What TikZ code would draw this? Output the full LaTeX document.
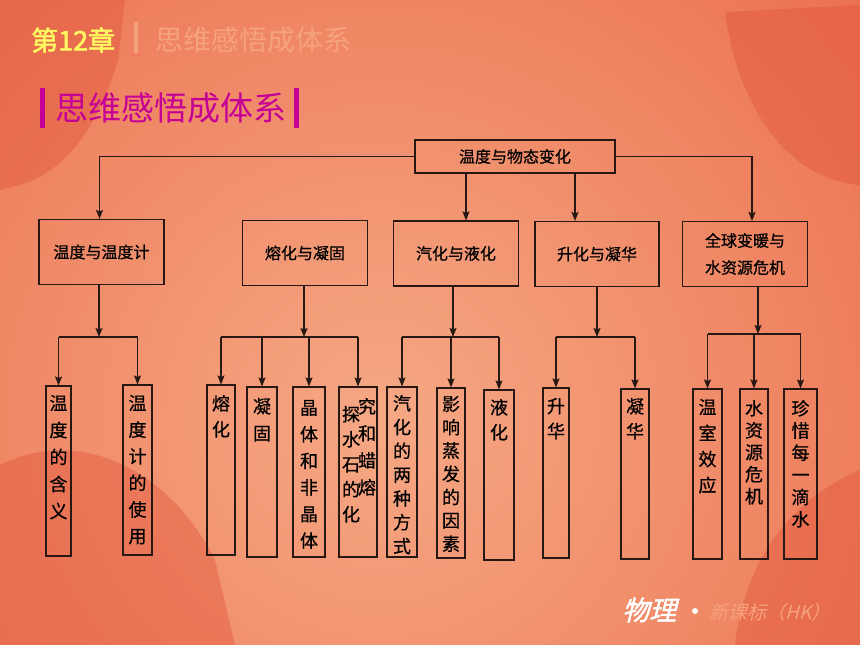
\documentclass[tikz,border=0pt]{standalone}
\usepackage{fontspec}
\usetikzlibrary{arrows.meta}
\newfontfamily\zh{Noto Sans CJK SC}
\newfontfamily\zhm{Noto Sans CJK SC}[FakeBold=0.6]
\newfontfamily\zhbf{Noto Sans CJK SC}[FakeBold=2]
\newfontfamily\zhsl{Noto Sans CJK SC}[FakeSlant=0.25,FakeBold=1.5]
\newfontfamily\zhit{Noto Sans CJK SC}[FakeSlant=0.25]
\definecolor{bgdark}{RGB}{233,102,70}
\definecolor{bglight}{RGB}{246,168,132}
\definecolor{deco}{RGB}{224,80,56}
\definecolor{lineclr}{RGB}{40,24,20}
\definecolor{titleyel}{RGB}{255,248,96}
\definecolor{pale}{RGB}{246,162,126}
\definecolor{headmag}{RGB}{196,0,150}
% vertical column of characters: [line skip]{top gap}{text}
\newcommand{\vcol}[3][26pt]{\parbox[c][164pt][t]{18pt}{\centering\fontsize{18pt}{#1}\selectfont\vspace*{#2}#3}}

\begin{document}
\begin{tikzpicture}[x=1pt,y=-1pt,
	branch/.style={draw=lineclr,line width=1.1pt,minimum width=125pt,minimum height=65pt,inner sep=2pt,align=center,font=\zhm\fontsize{16pt}{22pt}\selectfont},
	leaf/.style={draw=lineclr,line width=1.1pt,minimum height=170pt,inner sep=3pt,font=\zhm},
	arr/.style={-{Stealth[length=9pt,width=7pt,inset=1.5pt]}},
	link/.style={draw=lineclr,line width=1.1pt}]
	\useasboundingbox (0,0) rectangle (860,645);
	% background
	\fill[bgdark] (0,0) rectangle (860,645);
	\begin{scope}
		\clip (0,0) rectangle (860,645);
		\shade[inner color=bglight, outer color=bgdark] (380,420) circle (780);
		\begin{scope}[fill=deco, fill opacity=0.4]
			\fill (0,0) -- (125,0) -- (118,60) .. controls (100,120) and (70,170) .. (20,185) -- (0,190) -- cycle;
			\fill (725,12) -- (860,5) -- (860,185) .. controls (790,180) and (738,110) .. (725,12) -- cycle;
			\fill (0,465) .. controls (80,425) and (170,470) .. (215,560) -- (235,645) -- (0,645) -- cycle;
			\fill (860,470) .. controls (790,500) and (745,560) .. (735,645) -- (860,645) -- cycle;
		\end{scope}
	\end{scope}
	% headings
	\node[anchor=west,inner sep=0,text=titleyel,font=\zhbf\fontsize{27pt}{27pt}\selectfont] (chap) at (31,40) {第12章};
	\fill[pale] (134,22) rectangle (137.5,53);
	\node[anchor=west,inner sep=0,text=pale,font=\zh\fontsize{28pt}{28pt}\selectfont] (chaptitle) at (155,40) {思维感悟成体系};
	\fill[headmag] (40,88) rectangle (45,128);
	\fill[headmag] (294,88) rectangle (299,128);
	\node[anchor=west,inner sep=0,text=headmag,font=\zh\fontsize{33pt}{33pt}\selectfont] (head) at (55,108) {思维感悟成体系};
	% top and branches
	\node[branch,minimum width=200pt,minimum height=33pt] (top) at (515,156.5) {温度与物态变化};
	\node[branch] (b1) at (101.5,252) {温度与温度计};
	\node[branch] (b2) at (305,253) {熔化与凝固};
	\node[branch] (b3) at (456,253.5) {汽化与液化};
	\node[branch,minimum width=124pt] (b4) at (597,254) {升化与凝华};
	\node[branch,font=\zhm\fontsize{16pt}{27pt}\selectfont] (b5) at (745,254) {全球变暖与\\水资源危机};
	\draw[link,arr] (top.west) -| ([xshift=-2pt]b1.north);
	\draw[link,arr] ([xshift=10pt]b3.north |- top.south) -- ([xshift=10pt]b3.north);
	\draw[link,arr] ([xshift=-22pt]b4.north |- top.south) -- ([xshift=-22pt]b4.north);
	\draw[link,arr] (top.east) -| ([xshift=7pt]b5.north);
	% leaves
	\node[leaf,minimum width=25pt] (l11) at (58.5,471) {\vcol[27pt]{6pt}{温\\度\\的\\含\\义}};
	\node[leaf,minimum width=29pt] (l12) at (137.5,470) {\vcol[26.6pt]{7pt}{温\\度\\计\\的\\使\\用}};
	\node[leaf,minimum width=28pt] (l21) at (221,470) {\vcol{7pt}{熔\\化}};
	\node[leaf,minimum width=30pt] (l22) at (262,472) {\vcol[27pt]{8pt}{凝\\固}};
	\node[leaf,minimum width=32pt] (l23) at (309,472) {\vcol[26.6pt]{10pt}{晶\\体\\和\\非\\晶\\体}};
	\node[leaf,minimum width=38pt] (l24) at (358,472) {\parbox[c][164pt][t]{16pt}{\centering\fontsize{18pt}{25pt}\selectfont\vspace*{16pt}探\\水\\石\\的\\化}\parbox[c][164pt][t]{16pt}{\centering\fontsize{18pt}{27pt}\selectfont\vspace*{8pt}究\\和\\蜡\\熔}};
	\node[leaf,minimum width=30pt] (l31) at (402,472) {\vcol[23.8pt]{5pt}{汽\\化\\的\\两\\种\\方\\式}};
	\node[leaf,minimum width=28pt] (l32) at (451,473) {\vcol[23.3pt]{5pt}{影\\响\\蒸\\发\\的\\因\\素}};
	\node[leaf,minimum width=30pt] (l33) at (499,475) {\vcol[25pt]{6pt}{液\\化}};
	\node[leaf,minimum width=26pt] (l41) at (556,473) {\vcol[25pt]{7pt}{升\\华}};
	\node[leaf,minimum width=28pt] (l42) at (635,474) {\vcol[25pt]{6pt}{凝\\华}};
	\node[leaf,minimum width=29pt] (l51) at (707.5,474) {\vcol{7pt}{温\\室\\效\\应}};
	\node[leaf,minimum width=28pt] (l52) at (754,474) {\vcol[22pt]{8pt}{水\\资\\源\\危\\机}};
	\node[leaf,minimum width=33pt] (l53) at (800.5,474) {\vcol[22.2pt]{8pt}{珍\\惜\\每\\一\\滴\\水}};
	% branch to leaves
	\coordinate (j1) at (99,337);
	\coordinate (j2) at (304,337);
	\coordinate (j3) at (453,337);
	\coordinate (j4) at (597,337);
	\coordinate (j5) at (758,334);
	\draw[link,arr] (b1.south -| j1) -- (j1);
	\draw[link] (l11.north |- j1) -- (l12.north |- j1);
	\draw[link,arr] (l11.north |- j1) -- (l11.north);
	\draw[link,arr] (l12.north |- j1) -- (l12.north);
	\draw[link,arr] (b2.south -| j2) -- (j2);
	\draw[link] (l21.north |- j2) -- (l24.north |- j2);
	\draw[link,arr] (l21.north |- j2) -- (l21.north);
	\draw[link,arr] (l22.north |- j2) -- (l22.north);
	\draw[link,arr] (l23.north |- j2) -- (l23.north);
	\draw[link,arr] (l24.north |- j2) -- (l24.north);
	\draw[link,arr] (b3.south -| j3) -- (j3);
	\draw[link] (l31.north |- j3) -- (l33.north |- j3);
	\draw[link,arr] (l31.north |- j3) -- (l31.north);
	\draw[link,arr] (l32.north |- j3) -- (l32.north);
	\draw[link,arr] (l33.north |- j3) -- (l33.north);
	\draw[link,arr] (b4.south -| j4) -- (j4);
	\draw[link] (l41.north |- j4) -- (l42.north |- j4);
	\draw[link,arr] (l41.north |- j4) -- (l41.north);
	\draw[link,arr] (l42.north |- j4) -- (l42.north);
	\draw[link,arr] (b5.south -| j5) -- (j5);
	\draw[link] (l51.north |- j5) -- (l53.north |- j5);
	\draw[link,arr] (l51.north |- j5) -- (l51.north);
	\draw[link,arr] (l52.north |- j5) -- (l52.north);
	\draw[link,arr] (l53.north |- j5) -- (l53.north);
	% footer
	\node[anchor=west,inner sep=0,text=white,font=\zhsl\fontsize{27pt}{27pt}\selectfont] (subj) at (622,610) {物理};
	\fill[white] (695,611) circle (3);
	\node[anchor=west,inner sep=0,text=pale,font=\zhit\fontsize{19pt}{19pt}\selectfont] (edition) at (709,612) {新课标（HK）};
\end{tikzpicture}
\end{document}
